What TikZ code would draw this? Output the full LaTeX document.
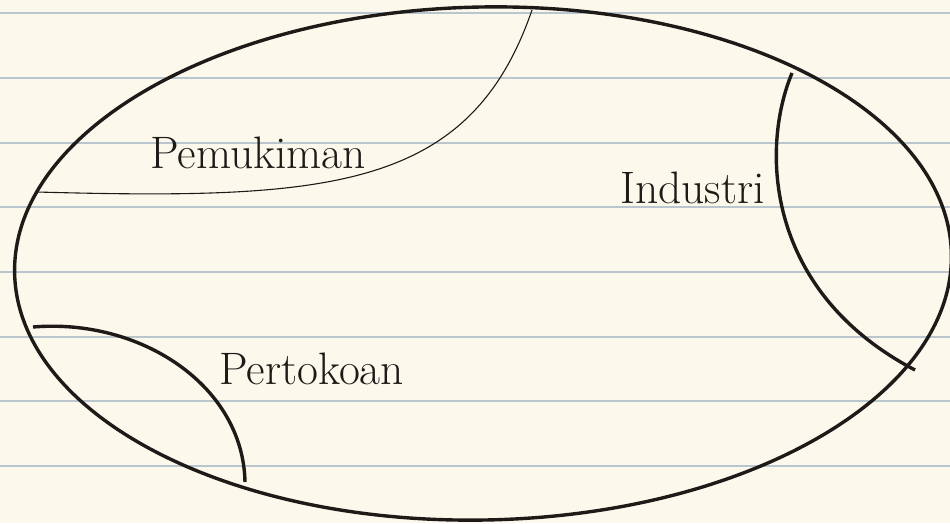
\documentclass[tikz,border=0pt]{standalone}
\definecolor{paper}{HTML}{FDF8EC}
\definecolor{rule}{HTML}{B9C6CE}
\definecolor{ink}{HTML}{1E1A18}
\begin{document}
\begin{tikzpicture}[x=1pt,y=-1pt,
  ruleline/.style={draw=rule,line width=2pt},
  region/.style={draw=ink,line width=3.4pt},
  thinregion/.style={draw=ink,line width=1.1pt},
  label/.style={text=ink,inner sep=0pt,anchor=base west,font=\fontsize{45.5}{50}\selectfont}]
\useasboundingbox (0,0) rectangle (950,523);
\fill[paper] (0,0) rectangle (950,523);
\foreach \k in {0,...,7} {
  \draw[ruleline] (0,{13.3+64.67*\k}) -- (950,{13.3+64.67*\k});
}
% main area
\draw[region,rotate around={1.2:(483,263.5)}] (483,263.5) ellipse [x radius=468.5, y radius=256.5];
% boundaries
\coordinate (pa) at (37,192);
\coordinate (pb) at (532,10);
\draw[thinregion] (pa) .. controls (330,200) and (470,190) .. (pb);
\coordinate (ia) at (792,73);
\coordinate (ib) at (915,370);
\draw[region] (ia) .. controls (760,150) and (766,292) .. (ib);
\coordinate (ta) at (33,327);
\coordinate (tb) at (245,482);
\draw[region] (ta) .. controls (140,318) and (243,385) .. (tb);
% labels
\node[label] (pemukiman) at (150,168) {Pemukiman};
\node[label] (industri) at (620,203) {Industri};
\node[label] (pertokoan) at (219,384) {Pertokoan};
\end{tikzpicture}
\end{document}
